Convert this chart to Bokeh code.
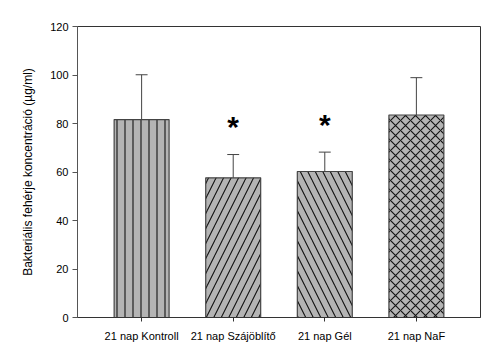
from bokeh.plotting import figure
from bokeh.models import ColumnDataSource, Range1d, FixedTicker
from bokeh.core.properties import value
from bokeh.embed import file_html
from bokeh.resources import INLINE

categories = ["21 nap Kontroll", "21 nap Szájöblítő", "21 nap Gél", "21 nap NaF"]
means = [81.6, 57.6, 60.2, 83.5]
errors = [18.5, 9.6, 8.0, 15.4]
significance = ["", "*", "*", ""]
patterns = ["|", "/", "\\", "x"]
y_ticks = [0, 20, 40, 60, 80, 100, 120]

xs = list(range(len(categories)))
upper = [m + e for m, e in zip(means, errors)]

src = ColumnDataSource(dict(
    x=xs, top=means, upper=upper, pat=patterns,
    scale=[8, 15, 15, 10],
    cl=[x - 0.065 for x in xs], cr=[x + 0.065 for x in xs],
    sig=significance, sy=[u + 11.5 for u in upper],
))

p = figure(width=494, height=353, output_backend="svg", toolbar_location=None,
           x_range=Range1d(-0.7, 3.7), y_range=Range1d(0, 120),
           min_border_left=77, min_border_right=14, min_border_top=26, min_border_bottom=36)
p.background_fill_color = "white"
p.border_fill_color = "white"
p.outline_line_color = "#333333"
p.outline_line_width = 1
p.xgrid.visible = False
p.ygrid.visible = False

p.vbar(x="x", top="top", bottom=0, width=0.6, source=src,
       fill_color="#b4b4b4", line_color="#444444", line_width=1.2,
       hatch_pattern="pat", hatch_scale="scale", hatch_color="#111111",
       hatch_weight=1.1, hatch_alpha=1.0)

p.segment(x0="x", y0="top", x1="x", y1="upper", source=src, line_color="#444444", line_width=1)
p.segment(x0="cl", y0="upper", x1="cr", y1="upper", source=src, line_color="#444444", line_width=1)

p.text(x="x", y="sy", text="sig", source=src, text_align="center", text_baseline="middle",
       text_font=value("Liberation Sans"), text_font_size="30px", text_font_style="bold",
       text_color="black")

p.xaxis.ticker = FixedTicker(ticks=xs)
p.xaxis.major_label_overrides = {i: c for i, c in enumerate(categories)}
p.xaxis.minor_tick_line_color = None
p.xaxis.major_tick_out = 4
p.xaxis.major_tick_in = 0
p.xaxis.major_label_standoff = 8
p.xaxis.axis_line_color = "#333333"
p.xaxis.major_tick_line_color = "#333333"

p.yaxis.ticker = FixedTicker(ticks=y_ticks)
p.yaxis.minor_tick_line_color = None
p.yaxis.major_tick_out = 5
p.yaxis.major_tick_in = 0
p.yaxis.major_label_standoff = 4
p.yaxis.axis_line_color = "#555555"
p.yaxis.major_tick_line_color = "#555555"
p.yaxis.axis_label = "Bakteriális fehérje koncentráció (µg/ml)"
p.yaxis.axis_label_standoff = 12
p.yaxis.axis_label_text_font_style = "normal"

for ax in (p.xaxis, p.yaxis):
    ax.major_label_text_font = "Liberation Sans"
    ax.major_label_text_font_size = "11px"
    ax.major_label_text_color = "black"
    ax.axis_label_text_font = "Liberation Sans"
    ax.axis_label_text_font_size = "12px"
    ax.axis_label_text_color = "black"

open("out.html", "w").write(file_html(p, INLINE))
